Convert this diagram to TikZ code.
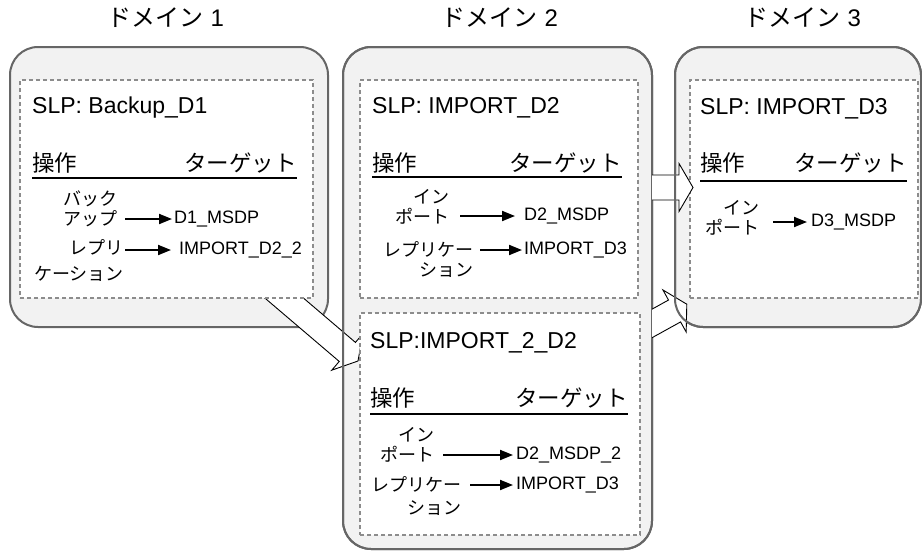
\documentclass[tikz,border=0pt]{standalone}
\usepackage{fontspec}
\setmainfont{Liberation Sans}
\newfontfamily\jpfont{Noto Sans CJK JP}
\usepackage{tikz}
\usetikzlibrary{arrows.meta, positioning, calc}
\definecolor{domfill}{RGB}{242,242,242}
\definecolor{domline}{RGB}{102,102,102}
\definecolor{slpline}{RGB}{140,140,140}

% hollow block arrow from tail #1 to tip #2
\newcommand\blockarrow[2]{%
  \path ($(#2)!14pt!(#1)$) coordinate (#2h);
  \draw[bigarrow] ($(#1)!12.5pt!90:(#2)$) -- ($(#2h)!12.5pt!90:(#2)$)
    -- ($(#2h)!24pt!90:(#2)$) -- (#2) -- ($(#2h)!24pt!-90:(#2)$)
    -- ($(#2h)!12.5pt!-90:(#2)$) -- ($(#1)!12.5pt!-90:(#2)$) -- cycle;}

\begin{document}
\begin{tikzpicture}[x=1pt,y=-1pt,
        title/.style={font=\fontsize{24}{28}\selectfont},
        dombox/.style={draw=domline,fill=domfill,line width=2pt,rounded corners=28pt,
                       anchor=north west,inner sep=0pt,outer sep=0pt},
        domedge/.style={draw=domline,line width=2pt,rounded corners=28pt},
        slpbox/.style={draw=slpline,fill=white,line width=1.8pt,dash pattern=on 4pt off 3pt,
                       anchor=north west,inner sep=0pt,outer sep=0pt},
        slpname/.style={font=\fontsize{23}{27}\selectfont,anchor=base west,inner sep=0pt},
        colhead/.style={font=\jpfont\fontsize{22.5}{26}\selectfont,inner sep=0pt},
        oplabel/.style={font=\jpfont\fontsize{18}{20}\selectfont,align=right,anchor=east,inner sep=0pt},
        target/.style={font=\fontsize{18}{21}\selectfont,anchor=west,inner sep=0pt},
        rule/.style={line width=1.6pt},
        flow/.style={-{Triangle[length=13pt,width=10pt]},line width=1.9pt},
        bigarrow/.style={draw=black,fill=white,line width=0.9pt,line join=miter}]
  \useasboundingbox (0,0) rectangle (922,554);

  % domains
  \node[title] (t1) at (166,18) {{\jpfont ドメイン} 1};
  \node[title] (t2) at (500,18) {{\jpfont ドメイン} 2};
  \node[title] (t3) at (803,18) {{\jpfont ドメイン} 3};
  \node[dombox,minimum width=318pt,minimum height=280pt] (dom1) at (10,47) {};
  \node[dombox,minimum width=309pt,minimum height=502pt] (dom2) at (343,47) {};
  \node[dombox,minimum width=246pt,minimum height=280pt] (dom3) at (675,47) {};

  \coordinate (a1tail) at (270,286);
  \coordinate (a1tip) at (358,361);
  \blockarrow{a1tail}{a1tip}
  \draw[domedge] (dom2.north west) rectangle (dom2.south east);

  % SLP boxes
  \node[slpbox,minimum width=293pt,minimum height=218pt] (slp1) at (20,80) {};
  \node[slpbox,minimum width=278pt,minimum height=218pt] (slp2) at (360,80) {};
  \node[slpbox,minimum width=280pt,minimum height=222pt] (slp3) at (360,313) {};
  \node[slpbox,minimum width=228pt,minimum height=218pt] (slp4) at (690,80) {};

  % Backup_D1
  \node[slpname] (n1) at (32,113) {SLP: Backup\_D1};
  \node[colhead,anchor=west] (hop1) at (32,163) {操作};
  \node[colhead,anchor=east] (htg1) at (297,163) {ターゲット};
  \draw[rule] (hop1.west |- 0,178) -- (htg1.east |- 0,178);
  \node[oplabel] (op11) at (118,209) {バック\\アップ};
  \node[target] (tg11) at (174,219) {D1\_MSDP};
  \draw[flow,shorten <=7pt,shorten >=2pt] (op11.east |- tg11.west) -- (tg11.west);
  \node[oplabel] (op12) at (124,261) {レプリ\\[6pt]ケーション};
  \node[target] (tg12) at (179,250) {IMPORT\_D2\_2};
  \draw[flow,shorten <=1pt,shorten >=8pt] (op12.east |- tg12.west) -- (tg12.west);

  % IMPORT_D2
  \node[slpname] (n2) at (372,113) {SLP: IMPORT\_D2};
  \node[colhead,anchor=west] (hop2) at (372,163) {操作};
  \node[colhead,anchor=east] (htg2) at (622,163) {ターゲット};
  \draw[rule] (hop2.west |- 0,177) -- (htg2.east |- 0,177);
  \node[oplabel] (op21) at (450,207) {イン\\ポート};
  \node[target] (tg21) at (524,216) {D2\_MSDP};
  \draw[flow,shorten <=10pt,shorten >=9pt] (op21.east |- tg21.west) -- (tg21.west);
  \node[oplabel] (op22) at (474,260) {レプリケー\\ション};
  \node[target] (tg22) at (524,250) {IMPORT\_D3};
  \draw[flow,shorten <=6pt,shorten >=2pt] (op22.east |- tg22.west) -- (tg22.west);

  % IMPORT_2_D2
  \node[slpname] (n3) at (370,348) {SLP:IMPORT\_2\_D2};
  \node[colhead,anchor=west] (hop3) at (370,398) {操作};
  \node[colhead,anchor=east] (htg3) at (628,398) {ターゲット};
  \draw[rule] (hop3.west |- 0,414) -- (htg3.east |- 0,414);
  \node[oplabel] (op31) at (435,445) {イン\\ポート};
  \node[target] (tg31) at (516,455) {D2\_MSDP\_2};
  \draw[flow,shorten <=8pt,shorten >=3pt] (op31.east |- tg31.west) -- (tg31.west);
  \node[oplabel] (op32) at (462,496.5) {レプリケー\\[3pt]ション};
  \node[target] (tg32) at (516,485) {IMPORT\_D3};
  \draw[flow,shorten <=8pt,shorten >=3pt] (op32.east |- tg32.west) -- (tg32.west);

  % IMPORT_D3
  \node[slpname] (n4) at (700,114) {SLP: IMPORT\_D3};
  \node[colhead,anchor=west] (hop4) at (700,163) {操作};
  \node[colhead,anchor=east] (htg4) at (907,163) {ターゲット};
  \draw[rule] (hop4.west |- 0,181) -- (htg4.east |- 0,181);
  \node[oplabel] (op41) at (760,218) {イン\\ポート};
  \node[target] (tg41) at (811,222) {D3\_MSDP};
  \draw[flow,shorten <=13pt,shorten >=4pt] (op41.east |- tg41.west) -- (tg41.west);

  % arrows into domain 3
  \coordinate (a2tail) at (648,187.5);
  \coordinate (a2tip) at (693,187.5);
  \coordinate (a3tail) at (645.6,327);
  \coordinate (a3tip) at (686.8,304.2);
  \begin{scope}
    \clip (dom2.north east) rectangle (922,554);
    \blockarrow{a2tail}{a2tip}
    \blockarrow{a3tail}{a3tip}
  \end{scope}
  \draw[domedge] (dom3.north west) rectangle (dom3.south east);
\end{tikzpicture}
\end{document}
